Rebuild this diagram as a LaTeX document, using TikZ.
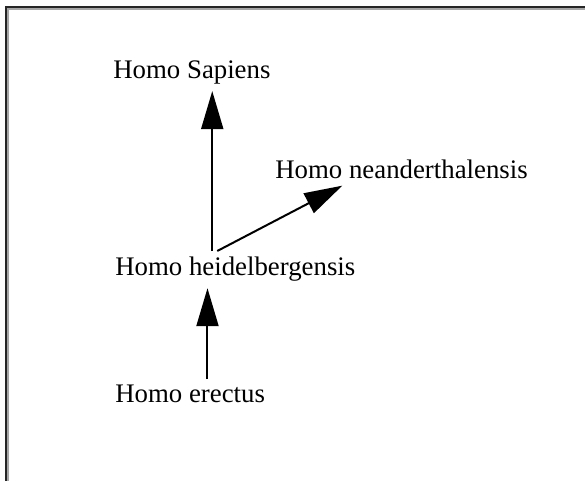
\documentclass[tikz,border=0pt]{standalone}
\usepackage{fontspec}
\setmainfont{Liberation Serif}
\usetikzlibrary{positioning, arrows.meta, calc}

\begin{document}
\begin{tikzpicture}[x=0.5pt, y=-0.5pt, font=\fontsize{13.4}{16}\selectfont,
  species/.style={anchor=base west, inner xsep=0pt, inner ysep=3pt},
  descent/.style={line width=1pt, -{Triangle[length=19pt, width=11pt]}}]
  \useasboundingbox (0,0) rectangle (585,481);
  \draw[black!35, line width=1pt] (7.75,481) -- (7.75,9) -- (585,9);
  \draw[black!85, line width=1pt] (6,481) -- (6,7) -- (585,7);
  \node[species] (sapiens) at (113,79) {Homo Sapiens};
  \node[species] (neander) at (275,179) {Homo neanderthalensis};
  \node[species] (heidel) at (115,276) {Homo heidelbergensis};
  \node[species] (erectus) at (115,403) {Homo erectus};
  \coordinate (fork) at ($(heidel.north west)!0.404!(heidel.north east)$);
  \coordinate (rise) at ($(erectus.north west)!0.615!(erectus.north east)$);
  \draw[descent] (fork) -- (fork |- sapiens.south);
  \draw[descent] ([xshift=2.5pt]fork) -- ($(neander.south west)!0.266!(neander.south east)$);
  \draw[descent] (rise) -- (rise |- heidel.south);
\end{tikzpicture}
\end{document}
